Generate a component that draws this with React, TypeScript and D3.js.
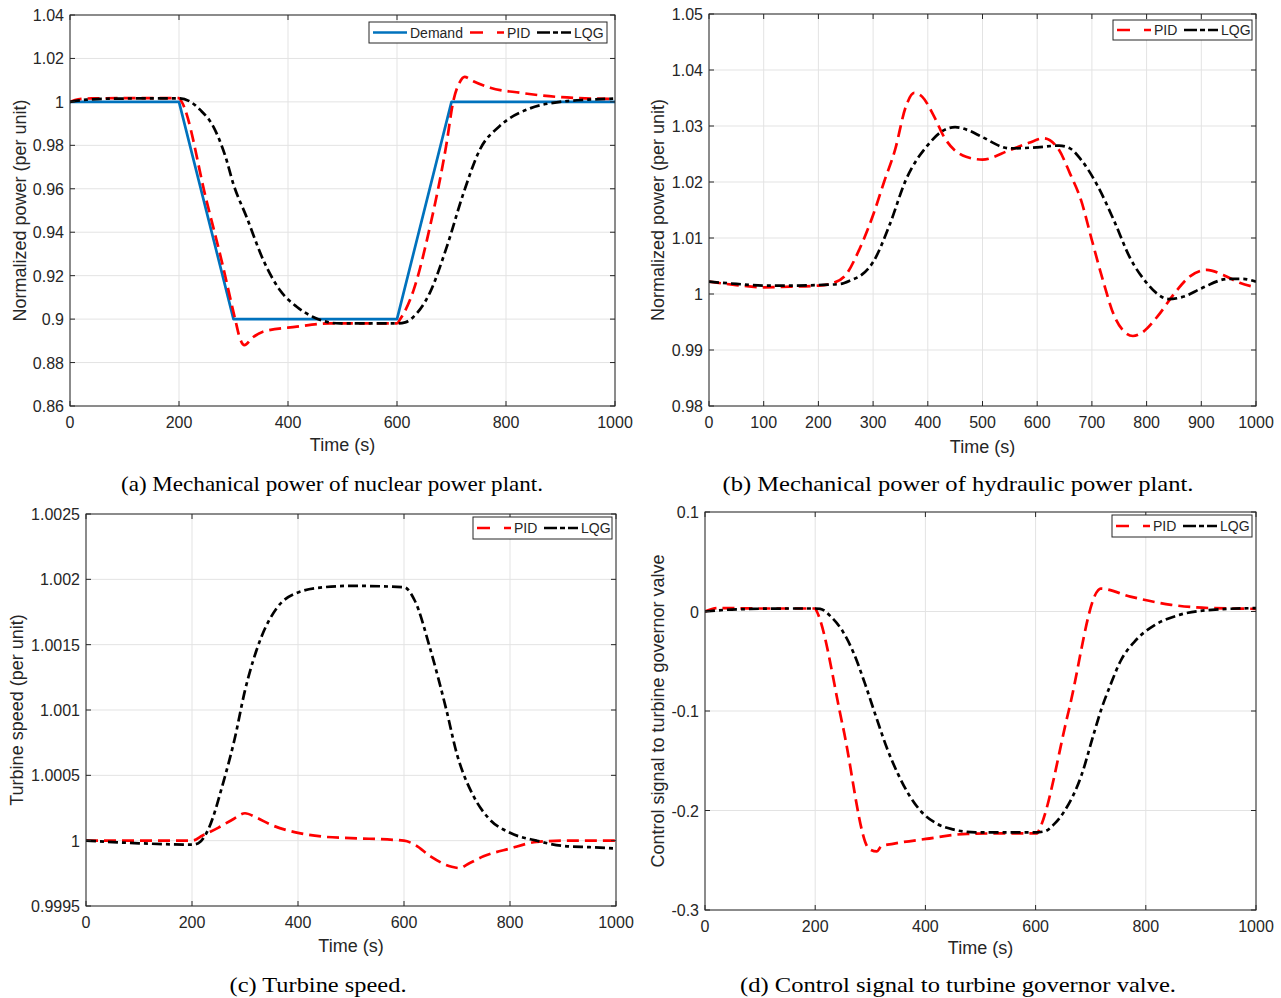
import React from "react";
import * as d3 from "d3";

// ---------- DATA ----------
const xTicks200 = [0, 200, 400, 600, 800, 1000];
const xTicks100 = [0, 100, 200, 300, 400, 500, 600, 700, 800, 900, 1000];
const yTicksA = [0.86, 0.88, 0.9, 0.92, 0.94, 0.96, 0.98, 1, 1.02, 1.04];
const yTicksB = [0.98, 0.99, 1, 1.01, 1.02, 1.03, 1.04, 1.05];
const yTicksC = [0.9995, 1, 1.0005, 1.001, 1.0015, 1.002, 1.0025];
const yTicksD = [-0.3, -0.2, -0.1, 0, 0.1];

// (a) Mechanical power of nuclear power plant
const demandA: [number, number][] = [[0, 1], [200, 1], [300, 0.9], [600, 0.9], [700, 1], [1000, 1]];
const pidA: [number, number][] = [
  [0, 1.0], [15, 1.0012], [40, 1.0016], [100, 1.0017], [200, 1.0017], [205, 1.0], [250, 0.955],
  [280, 0.925], [303, 0.9], [312, 0.891], [320, 0.888], [335, 0.8915], [354, 0.8942], [416, 0.8965],
  [477, 0.898], [540, 0.898], [600, 0.898], [606, 0.9], [630, 0.913], [660, 0.942], [691, 0.981],
  [703, 1.0], [715, 1.009], [724, 1.0115], [740, 1.0095], [771, 1.0065], [826, 1.0042], [899, 1.0022],
  [1000, 1.0013]];
const lqgA: [number, number][] = [
  [0, 1.0], [30, 1.001], [80, 1.0015], [150, 1.0016], [202, 1.0016], [220, 1.0002], [239, 0.9963],
  [263, 0.9886], [285, 0.975], [300, 0.962], [324, 0.947], [355, 0.927], [385, 0.9134], [416, 0.9057],
  [446, 0.901], [495, 0.898], [599, 0.898], [615, 0.8985], [630, 0.901], [660, 0.912], [691, 0.933],
  [722, 0.958], [752, 0.978], [789, 0.989], [844, 0.997], [899, 1.0], [950, 1.001], [1000, 1.0015]];

// (b) Mechanical power of hydraulic power plant
const pidB: [number, number][] = [
  [0, 1.0022], [50, 1.0016], [100, 1.0012], [150, 1.0013], [200, 1.0015], [225, 1.0019], [250, 1.0034],
  [275, 1.008], [300, 1.0141], [320, 1.02], [340, 1.0257], [360, 1.0335], [375, 1.0359], [390, 1.0352],
  [410, 1.032], [430, 1.028], [470, 1.0245], [500, 1.024], [550, 1.0257], [585, 1.027], [612, 1.0278],
  [640, 1.0257], [660, 1.0215], [680, 1.0168], [700, 1.0096], [720, 1.0025], [740, 0.9963], [760, 0.9932],
  [775, 0.9925], [790, 0.993], [820, 0.996], [850, 1.0], [880, 1.0032], [910, 1.0043], [940, 1.0034],
  [970, 1.002], [1000, 1.0012]];
const lqgB: [number, number][] = [
  [0, 1.0022], [50, 1.0018], [100, 1.0015], [150, 1.0015], [200, 1.0016], [240, 1.0018], [260, 1.0025],
  [280, 1.0035], [300, 1.0057], [330, 1.0123], [360, 1.0204], [400, 1.0266], [425, 1.029], [450, 1.0298],
  [475, 1.0292], [500, 1.028], [550, 1.026], [600, 1.0262], [640, 1.0265], [660, 1.026], [680, 1.024],
  [710, 1.0194], [740, 1.0132], [770, 1.0064], [800, 1.002], [820, 1.0], [840, 0.9991], [870, 0.9996],
  [900, 1.001], [950, 1.0027], [975, 1.0027], [1000, 1.0022]];

// (c) Turbine speed
const pidC: [number, number][] = [
  [0, 1.0], [100, 1.0], [200, 1.0], [220, 1.00004], [250, 1.0001], [280, 1.00017], [300, 1.00021],
  [320, 1.00018], [350, 1.00012], [400, 1.00006], [450, 1.00003], [500, 1.00002], [600, 1.0],
  [620, 0.99997], [650, 0.99988], [690, 0.9998], [705, 0.99979], [720, 0.99982], [750, 0.99988],
  [800, 0.99994], [850, 0.99999], [900, 1.0], [1000, 1.0]];
const lqgC: [number, number][] = [
  [0, 1.0], [100, 0.99998], [200, 0.99997], [212, 0.99998], [230, 1.00008], [260, 1.00046], [280, 1.00077],
  [300, 1.00115], [330, 1.00155], [360, 1.00178], [400, 1.0019], [450, 1.00194], [500, 1.00195],
  [600, 1.00194], [620, 1.00184], [650, 1.00146], [680, 1.001], [700, 1.00066], [730, 1.00035],
  [760, 1.00017], [800, 1.00006], [850, 1.0], [900, 0.99996], [950, 0.99995], [1000, 0.99994]];

// (d) Control signal to turbine governor valve
const pidD: [number, number][] = [
  [0, 0.0], [22, 0.0035], [100, 0.003], [200, 0.003], [203, 0.0], [250, -0.115], [298, -0.2387],
  [312, -0.241], [320, -0.236], [341, -0.2335], [401, -0.2286], [476, -0.2235], [550, -0.223],
  [603, -0.223], [606, -0.22], [660, -0.1], [713, 0.021], [718, 0.023], [772, 0.015], [846, 0.0067],
  [920, 0.0034], [1000, 0.0027]];
const lqgD: [number, number][] = [
  [0, 0.0], [57, 0.0022], [150, 0.003], [200, 0.003], [209, 0.0027], [230, -0.006], [250, -0.02],
  [270, -0.042], [290, -0.072], [310, -0.105], [330, -0.137], [350, -0.163], [370, -0.184], [394, -0.202],
  [420, -0.213], [450, -0.219], [491, -0.222], [600, -0.222], [616, -0.221], [635, -0.213], [653, -0.2],
  [683, -0.165], [705, -0.124], [720, -0.097], [735, -0.075], [754, -0.05], [780, -0.03], [817, -0.0134],
  [861, -0.0034], [920, 0.0017], [1000, 0.0034]];

// ---------- STYLE ----------
const AX = "#262626";
const GRID = "#e3e3e3";
const BLUE = "#0072BD";
const RED = "#FF0000";
const BLACK = "#000000";
const SANS = "'Liberation Sans', Arial, Helvetica, sans-serif";
const SERIF = "'Liberation Serif', 'Times New Roman', serif";

type Series = { data: [number, number][]; color: string; dash?: string; smooth: boolean; name: string };

const PID_DASH = "12,6";
const LQG_DASH = "10,4,4,4";

type PanelCfg = {
  id: string;
  box: [number, number, number, number]; // left, top, right, bottom
  yDomain: [number, number];
  xTicks: number[];
  yTicks: number[];
  series: Series[];
  legend: [number, number, number, number];
  ylabel: string;
  ylabelX: number;
  xlabelY: number;
  caption: string;
  captionX: number;
  captionY: number;
  captionW: number;
};

const fmt = (v: number) => String(+v.toFixed(6));

const mkSeries = (pid: [number, number][], lqg: [number, number][]): Series[] => [
  { data: pid, color: RED, dash: PID_DASH, smooth: true, name: "PID" },
  { data: lqg, color: BLACK, dash: LQG_DASH, smooth: true, name: "LQG" },
];

const panels: PanelCfg[] = [
  {
    id: "a", box: [70, 15, 615, 406], yDomain: [0.86, 1.04], xTicks: xTicks200, yTicks: yTicksA,
    series: [{ data: demandA, color: BLUE, smooth: false, name: "Demand" }, ...mkSeries(pidA, lqgA)],
    legend: [369, 22, 607, 43], ylabel: "Normalized power (per unit)", ylabelX: 26, xlabelY: 451,
    caption: "(a) Mechanical power of nuclear power plant.", captionX: 332, captionY: 491, captionW: 422,
  },
  {
    id: "b", box: [709, 14, 1256, 406], yDomain: [0.98, 1.05], xTicks: xTicks100, yTicks: yTicksB,
    series: mkSeries(pidB, lqgB), legend: [1113, 20, 1252, 40], ylabel: "Normalized power (per unit)",
    ylabelX: 664, xlabelY: 453, caption: "(b) Mechanical power of hydraulic power plant.", captionX: 958, captionY: 491,
    captionW: 471,
  },
  {
    id: "c", box: [86, 514, 616, 906], yDomain: [0.9995, 1.0025], xTicks: xTicks200, yTicks: yTicksC,
    series: mkSeries(pidC, lqgC), legend: [473, 517, 612, 539], ylabel: "Turbine speed (per unit)",
    ylabelX: 23, xlabelY: 952, caption: "(c) Turbine speed.", captionX: 318, captionY: 992, captionW: 177,
  },
  {
    id: "d", box: [705, 512, 1256, 910], yDomain: [-0.3, 0.1], xTicks: xTicks200, yTicks: yTicksD,
    series: mkSeries(pidD, lqgD), legend: [1112, 515, 1252, 537], ylabel: "Control signal to turbine governor valve",
    ylabelX: 664, xlabelY: 954, caption: "(d) Control signal to turbine governor valve.", captionX: 958, captionY: 992,
    captionW: 436,
  },
];

const legendTextW: Record<string, number> = { Demand: 60, PID: 30, LQG: 32 };
const legendDash: Record<string, string | undefined> = { Demand: undefined, PID: "13,14", LQG: "13,3,5,3" };

function Panel({ cfg }: { cfg: PanelCfg }) {
  const [l, t, r, b] = cfg.box;
  const x = d3.scaleLinear().domain([0, 1000]).range([l, r]);
  const y = d3.scaleLinear().domain(cfg.yDomain).range([b, t]);
  const tick = 5;
  const [lx0, ly0, lx1, ly1] = cfg.legend;
  const ly = (ly0 + ly1) / 2;
  const sampleW = 34;
  let cx = lx0 + 4;
  const legendItems = cfg.series.map((s) => {
    const item = { s, x0: cx, x1: cx + sampleW, tx: cx + sampleW + 3 };
    cx += sampleW + 3 + legendTextW[s.name];
    return item;
  });
  return (
    <g>
      <defs>
        <clipPath id={"clip-" + cfg.id}>
          <rect x={l} y={t} width={r - l} height={b - t} />
        </clipPath>
      </defs>
      <rect x={l} y={t} width={r - l} height={b - t} fill="#fff" />
      {cfg.xTicks.map((v) => (
        <line key={"gx" + v} x1={x(v)} x2={x(v)} y1={t} y2={b} stroke={GRID} strokeWidth={1} />
      ))}
      {cfg.yTicks.map((v) => (
        <line key={"gy" + v} x1={l} x2={r} y1={y(v)} y2={y(v)} stroke={GRID} strokeWidth={1} />
      ))}
      <g clipPath={`url(#clip-${cfg.id})`}>
        {cfg.series.map((s) => {
          const line = d3
            .line<[number, number]>()
            .x((d) => x(d[0]))
            .y((d) => y(d[1]))
            .curve(s.smooth ? d3.curveMonotoneX : d3.curveLinear);
          return (
            <path key={s.name} d={line(s.data) || ""} fill="none" stroke={s.color} strokeWidth={2.7}
              strokeDasharray={s.dash} strokeLinejoin="round" />
          );
        })}
      </g>
      <rect x={l} y={t} width={r - l} height={b - t} fill="none" stroke={AX} strokeWidth={1} />
      {cfg.xTicks.map((v) => (
        <g key={"tx" + v}>
          <line x1={x(v)} x2={x(v)} y1={b} y2={b - tick} stroke={AX} />
          <line x1={x(v)} x2={x(v)} y1={t} y2={t + tick} stroke={AX} />
          <text x={x(v)} y={b + 22} textAnchor="middle" fontFamily={SANS} fontSize={16} fill={AX}>{fmt(v)}</text>
        </g>
      ))}
      {cfg.yTicks.map((v) => (
        <g key={"ty" + v}>
          <line x1={l} x2={l + tick} y1={y(v)} y2={y(v)} stroke={AX} />
          <line x1={r} x2={r - tick} y1={y(v)} y2={y(v)} stroke={AX} />
          <text x={l - 6} y={y(v) + 6} textAnchor="end" fontFamily={SANS} fontSize={16} fill={AX}>{fmt(v)}</text>
        </g>
      ))}
      <text x={(l + r) / 2} y={cfg.xlabelY} textAnchor="middle" fontFamily={SANS} fontSize={18} fill={AX}>Time (s)</text>
      <text transform={`translate(${cfg.ylabelX},${(t + b) / 2}) rotate(-90)`} textAnchor="middle"
        fontFamily={SANS} fontSize={18} fill={AX}>{cfg.ylabel}</text>
      <rect x={lx0} y={ly0} width={lx1 - lx0} height={ly1 - ly0} fill="#fff" stroke={AX} strokeWidth={1} />
      {legendItems.map((it) => (
        <g key={"lg" + it.s.name}>
          <line x1={it.x0} x2={it.x1} y1={ly} y2={ly} stroke={it.s.color} strokeWidth={2.7}
            strokeDasharray={legendDash[it.s.name]} />
          <text x={it.tx} y={ly + 5} fontFamily={SANS} fontSize={14} fill={AX}>{it.s.name}</text>
        </g>
      ))}
      <text x={cfg.captionX} y={cfg.captionY} textAnchor="middle" fontFamily={SERIF} fontSize={22} fill="#000"
        textLength={cfg.captionW} lengthAdjust="spacingAndGlyphs">{cfg.caption}</text>
    </g>
  );
}

export default function App() {
  return (
    <svg width={1281} height={998} style={{ position: "absolute", left: 0, top: 0, background: "#fff" }}>
      <rect x={0} y={0} width={1281} height={998} fill="#fff" />
      {panels.map((p) => (
        <Panel key={p.id} cfg={p} />
      ))}
    </svg>
  );
}
